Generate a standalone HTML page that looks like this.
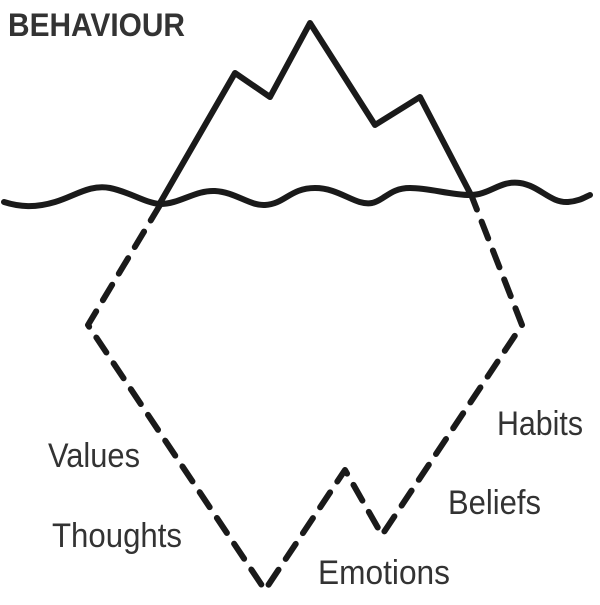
<!DOCTYPE html>
<html><head><style>
html,body{margin:0;padding:0;background:#fff;}
svg{display:block}
text{font-family:"Liberation Sans Narrow","Liberation Sans",sans-serif;fill:#333;}
</style></head><body>
<svg width="600" height="605" viewBox="0 0 600 605" xmlns="http://www.w3.org/2000/svg">
<text x="8" y="36" font-size="32" font-weight="bold" fill="#333" textLength="177" lengthAdjust="spacingAndGlyphs">BEHAVIOUR</text>
<g fill="none" stroke="#1a1a1a" stroke-width="6" stroke-linecap="round" stroke-linejoin="round">
<path d="M4,202 C20,207 35,208 55,202 C75,196 90,184 110,188 C130,192 145,203 160,204 C180,204 195,190 215,191 C235,192 250,206 265,205 C285,204 290,188 315,188 C340,188 355,206 372,203 C385,200 390,188 410,188 C430,188 450,195 470,195 C490,195 500,180 520,183 C540,186 550,203 568,202 C580,201 585,197 590,195"/>
<path d="M160,203 L235,73 L270,97 L310,23 L375,125 L420,97 L470,193"/>
<path stroke-dasharray="18,13" d="M160,205 L88,325 L265,590 L345,470 L382,535 L522,325 L472,197"/>
</g>
<text x="48" y="467" font-size="34" textLength="92" lengthAdjust="spacingAndGlyphs">Values</text>
<text x="52" y="547" font-size="34" textLength="130" lengthAdjust="spacingAndGlyphs">Thoughts</text>
<text x="497" y="435" font-size="34" textLength="86" lengthAdjust="spacingAndGlyphs">Habits</text>
<text x="448" y="514" font-size="34" textLength="93" lengthAdjust="spacingAndGlyphs">Beliefs</text>
<text x="318" y="584" font-size="34" textLength="132" lengthAdjust="spacingAndGlyphs">Emotions</text>
</svg>
</body></html>
